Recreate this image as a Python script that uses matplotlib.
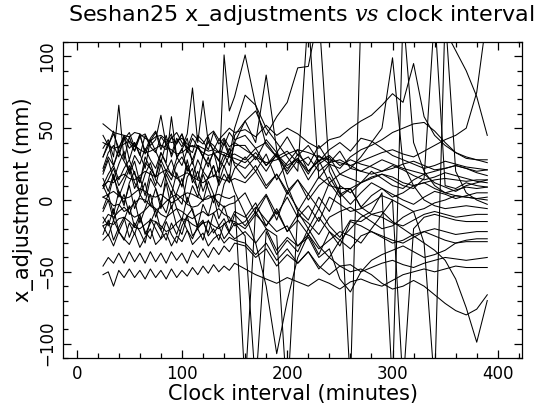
import numpy as np
import matplotlib
matplotlib.use("Agg")
import matplotlib.pyplot as plt
from matplotlib.ticker import MultipleLocator

plt.rcParams['font.family'] = ['DejaVu Sans']
plt.rcParams['mathtext.fontset'] = 'dejavuserif'

# sample times (minutes): dense in the first part, coarser later
x_left = list(range(25, 151, 5))
x_right = list(range(160, 391, 10))
clock = x_left + x_right

# x_adjustment (mm) for each antenna / session
s01 = [53, 50, 47, 46, 45, 44, 47, 46, 43, 41, 44, 45, 42, 40, 41, 43, 39, 37, 38, 36, 34, 35, 33, 31, 30, 29,
       26, 33, 24, 31, 22, 29, 20, 27, 31, 24, 28, 25, 23, 20, 22, 25, 27, 24, 21, 22, 24, 22, 19, 17]
s02 = [36, 42, 30, 66, 28, 44, 34, 46, 32, 41, 47, 35, 45, 30, 40, 46, 33, 43, 37, 30, 41, 38, 33, 42, 32, 38,
       38, 28, 42, 33, 44, 31, 38, 27, 35, 40, 34, 43, 41, 36, 31, 28, 25, 22, 24, 27, 25, 23, 22, 21]
s03 = [30, 38, 46, 36, 45, 40, 34, 44, 46, 38, 42, 59, 38, 43, 47, 40, 36, 46, 42, 39, 45, 48, 42, 46, 50, 47,
       49, 44, 52, 45, 50, 46, 40, 36, 42, 44, 50, 55, 59, 66, 74, 68, 95, 58, 45, 38, 33, 30, 28, 26]
s04 = [20, 30, 24, 34, 27, 20, 31, 25, 36, 28, 22, 33, 26, 58, 30, 24, 35, 28, 38, 30, 25, 33, 28, 23, 31, 26,
       22, 30, 20, 32, 24, 29, 18, 31, 25, 22, 30, 35, 38, 42, 47, 50, 53, 54, 48, 40, 33, 29, 28, 28]
s05 = [22, 33, 38, 30, 44, 36, 40, 31, 45, 37, 33, 44, 39, 32, 43, 37, 46, 78, 40, 69, 40, 35, 42, 38, 47, 42,
       45, 36, 40, 30, 34, 26, 30, 20, 26, 28, 24, 20, 18, 20, 24, 21, 17, 14, 16, 19, 17, 15, 13, 12]
s06 = [10, 18, 24, 14, 22, 28, 18, 12, 26, 22, 16, 28, 20, 14, 25, 30, 22, 16, 28, 20, 15, 24, 12, 101, 62, 72,
       101, 66, 50, 40, 30, 20, 130, 15, 25, 10, 5, 12, 20, 15, 10, 8, 14, 18, 12, 9, 6, 10, 12, 14]
s07 = [8, 14, 22, 10, 16, 24, 12, 6, 18, 26, 14, 9, 20, 28, 16, 10, 24, 15, 8, 20, 30, 16, 22, 32, 24, 40,
       55, 62, 45, 58, 68, 92, 93, 130, 20, 5, -3, 5, 12, 8, 2, 5, 10, 12, 8, 5, 7, 9, 8, 9]
s08 = [-6, 4, -10, 6, -2, 10, -6, 3, 12, -4, 8, -2, 12, -6, 5, 15, -2, 10, 2, 18, 8, -2, 12, 24, 14, 45,
       55, 40, 87, 35, 10, -8, 4, -6, 12, 2, 8, -5, 3, 8, 4, 0, -3, 2, 6, 4, 1, 3, 5, 5]
s09 = [2, 0, -4, -3, -8, -6, -2, 1, 0, -4, -7, -5, -1, 2, 4, 1, -3, -5, -4, 0, 3, 2, -2, -5, -3, -2,
       5, -10, 3, -14, 6, -6, -14, 2, -8, 10, -130, 130, 150, 150, 150, 150, 150, 140, 130, 118, 104, 90, 72, 45]
s10 = [-18, -16, -17, -13, -12, -15, -19, -20, -17, -14, -15, -18, -22, -20, -16, -13, -14, -17, -19, -16, -15, -18, -20, -17, -14, -15,
       -20, -10, -18, -6, -22, -14, -24, -12, -22, -28, -20, -12, -8, 5, -130, 130, 40, 20, 10, 5, 3, 2, 1, 0]
s11 = [15, 6, 18, 2, 12, 22, 8, 16, 3, 20, 10, 25, 14, 4, 19, 9, 28, 12, 20, 6, 16, 24, 10, 18, 12, 22,
       30, 20, 32, 14, 26, 35, 20, 28, 12, 18, 22, 30, 40, 50, 99, 25, 10, 0, -4, -6, -5, -4, -5, -6]
s12 = [-18, -25, -14, -22, -28, -16, -24, -12, -22, -27, -15, -21, -28, -16, -24, -13, -21, -27, -18, -14, -25, -20, -28, -16, -23, -27,
       -22, -30, -20, -35, -26, -32, -24, -34, -28, -22, -25, -30, -20, -10, 0, -130, -20, -12, -10, -12, -14, -15, -15, -15]
s13 = [40, 38, 36, 37, 39, 41, 38, 35, 33, 34, 36, 38, 37, 35, 32, 33, 36, 38, 36, 33, 31, 32, 34, 33, 31, 32,
       28, 36, 24, 33, 18, 28, 14, 25, 30, 18, 15, 12, 16, 18, 14, 10, 8, 15, 130, 10, 8, 12, 10, 9]
s14 = [-8, 0, -14, -4, 4, -10, 0, -16, -6, 4, -12, -2, -9, 6, -6, -14, 2, -8, -18, -3, -11, 3, -13, -4, -16, -8,
       -12, -2, -18, -8, -22, -10, -16, -24, -12, -8, -5, -10, -15, -20, -18, -12, -8, -30, -130, 130, 20, 5, 0, -3]
s15 = [2, 4, 6, 3, 1, 2, 5, 8, 6, 3, 2, 4, 1, -2, 0, 3, 5, 4, 2, 0, 1, 3, 4, 2, 1, 3,
       -130, -6, 4, -10, 2, -12, -4, -15, 2, -3, -8, -6, -2, 3, 0, -4, -8, -6, -2, 0, 3, 2, 1, 2]
s16 = [-24, -14, -28, -19, -12, -26, -16, -22, -30, -13, -20, -27, -15, -24, -30, -18, -11, -25, -20, -28, -14, -23, -18, -27, -22, -16,
       -25, -130, -22, -38, -28, -36, -20, -32, -40, -28, -34, -25, -22, -26, -30, -28, -24, -22, -20, -22, -24, -23, -22, -22]
s17 = [10, 2, 16, 6, -4, 12, 20, 4, -2, 15, 8, -6, 18, 10, 2, -3, 16, 22, 6, -1, 13, 4, -5, 11, 18, 6,
       -10, -30, -60, -107, -70, -40, -24, -38, -22, -32, -15, -18, -22, -25, -28, -30, -26, -22, -25, -28, -30, -29, -29, -29]
s18 = [-12, -18, -6, -22, -14, -4, -19, -10, -24, -16, -7, -21, -13, -4, -18, -24, -11, -6, -20, -15, -23, -9, -18, -13, -22, -10,
       -18, -8, -20, -25, -140, -8, -20, -6, -18, -26, -14, -15, -10, -12, -16, -18, -14, -10, -8, -10, -12, -11, -10, -10]
s19 = [45, 38, 48, 33, 42, 47, 37, 45, 34, 43, 48, 38, 35, 44, 39, 46, 36, 33, 45, 41, 35, 47, 39, 43, 37, 40,
       35, 30, 26, 28, 32, 35, 33, 30, 28, 26, 24, 27, 30, 33, 35, 32, 30, 34, 38, 42, 45, 50, 75, 130]
s20 = [10, 13, 12, 16, 18, 15, 14, 17, 20, 18, 16, 19, 21, 18, 15, 17, 19, 16, 14, 12, 15, 17, 16, 14, 13, 15,
       12, 20, 8, 18, 6, 14, 4, 16, 10, 8, 8, 12, 15, 18, 16, 12, 10, 12, 14, 15, 14, 13, 14, 14]
s21 = [-16, -10, -12, -8, -5, -9, -12, -10, -7, -3, -6, -10, -12, -9, -6, -8, -11, -13, -10, -8, -11, -9, -6, -10, -12, -18,
       -15, -5, -14, -22, -18, -32, -26, -40, -34, -55, -64, -50, -42, -38, -35, -32, -36, -40, -38, -35, -30, -28, -27, -27]
s22 = [30, 40, 24, 36, 44, 28, 40, 32, 22, 42, 34, 26, 40, 46, 30, 35, 43, 25, 38, 30, 44, 33, 27, 40, 30, 50,
       73, 66, 38, 30, 20, 32, 24, 38, 26, 34, 22, 20, 24, 28, 25, 22, 20, 18, 20, 22, 24, 22, 20, 21]
s23 = [-46, -40, -44, -37, -44, -36, -43, -37, -44, -36, -43, -37, -44, -36, -42, -37, -44, -35, -40, -34, -40, -33, -38, -32, -36, -30,
       -32, -40, -34, -46, -38, -44, -36, -48, -40, -46, -45, -50, -47, -44, -42, -45, -47, -44, -42, -40, -41, -42, -41, -40]
s24 = [-52, -50, -60, -49, -54, -48, -54, -49, -55, -48, -54, -49, -55, -48, -54, -49, -53, -47, -52, -46, -51, -45, -50, -46, -49, -44,
       -48, -52, -55, -58, -54, -57, -60, -55, -58, -62, -57, -55, -58, -60, -56, -52, -50, -48, -50, -48, -46, -47, -47, -47]
s25 = [-28, -24, -32, -22, -27, -31, -23, -33, -26, -20, -31, -27, -23, -32, -25, -29, -21, -31, -27, -23, -32, -27, -24, -30, -26, -28,
       -30, -38, -30, -42, -34, -44, -36, -46, -52, -46, -50, -48, -52, -58, -62, -60, -56, -60, -66, -72, -77, -80, -76, -66]
s26 = [18, 28, 14, 25, 34, 18, 27, 12, 30, 22, 16, 33, 25, 17, 29, 36, 20, 27, 14, 31, 23, 34, 19, 28, 36, 24,
       15, 24, 10, 18, 4, 14, 0, 10, 16, 4, 8, -5, -10, -8, -15, -20, -25, -30, -35, -42, -55, -75, -99, -70]

series = [s01, s02, s03, s04, s05, s06, s07, s08, s09, s10, s11, s12, s13,
          s14, s15, s16, s17, s18, s19, s20, s21, s22, s23, s24, s25, s26]

fig = plt.figure(figsize=(5.39, 4.08), dpi=100)
ax = fig.add_axes([63/539, 50/408, 459/539, 316/408])

for s in series:
    ax.plot(clock, s, color='black', lw=0.75)

ax.set_xlim(-13, 423)
ax.set_ylim(-110, 110)
ax.xaxis.set_major_locator(MultipleLocator(100))
ax.xaxis.set_minor_locator(MultipleLocator(20))
ax.yaxis.set_major_locator(MultipleLocator(50))
ax.yaxis.set_minor_locator(MultipleLocator(10))
ax.tick_params(which='both', direction='in', top=True, right=True, width=0.9)
ax.tick_params(which='major', length=6, labelsize=12, pad=5)
ax.tick_params(which='minor', length=3.5)
for lab in ax.get_yticklabels():
    lab.set_rotation(90)
    lab.set_va('center')
for sp in ax.spines.values():
    sp.set_linewidth(0.9)

ax.set_xlabel('Clock interval (minutes)', fontsize=15, labelpad=1)
ax.set_ylabel('x_adjustment (mm)', fontsize=15, labelpad=3)
fig.text(0.558, 0.962, r'Seshan25 x_adjustments $vs$ clock interval',
         ha='center', va='center', fontsize=16)

fig.savefig('out.png', dpi=100)
